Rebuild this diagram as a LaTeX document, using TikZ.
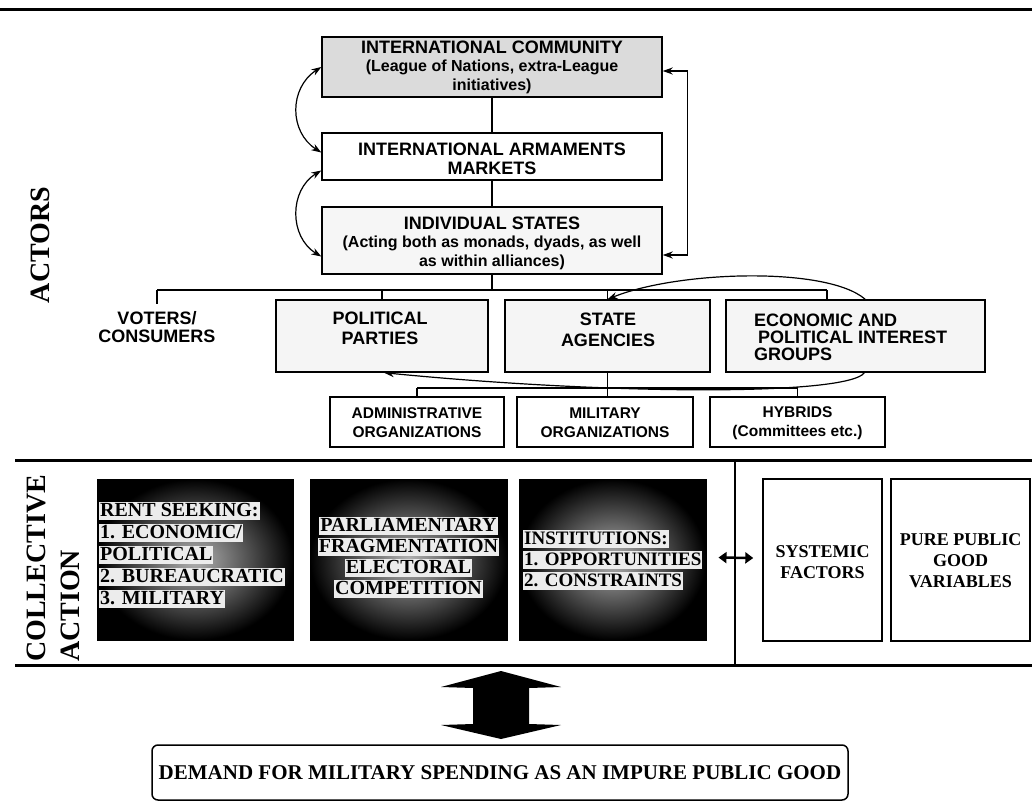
\documentclass[tikz,border=0pt]{standalone}
\usepackage{fontspec}
\setmainfont{Liberation Serif}
\newfontfamily\hv{Liberation Sans}
\usetikzlibrary{arrows.meta}
\pgfdeclarelayer{background}
\pgfsetlayers{background,main}
\newcommand\smallhv{\hv\bfseries\fontsize{16}{17}\selectfont}
\tikzset{
  box/.style={draw, line width=1.4pt, inner sep=0pt},
  hd/.style={font=\hv\bfseries\fontsize{18}{18.5}\selectfont, align=center, inner sep=0pt},
  lbl/.style={font=\hv\bfseries\fontsize{15.5}{19}\selectfont, align=center, inner sep=0pt},
  conn/.style={line width=1.2pt},
  tips/.style={{Stealth[length=10pt,width=7pt]}-{Stealth[length=10pt,width=7pt]}},
  rule/.style={line width=3pt},
  side/.style={font=\bfseries\fontsize{28}{34}\selectfont, rotate=90, inner sep=0pt},
  dark/.style={draw, line width=1pt, shade, inner color=gray!60, outer color=black, inner sep=0pt},
  band/.style={fill=gray!15, inner sep=1pt, text height=13.5pt, text depth=3pt, font=\bfseries\fontsize{20}{21}\selectfont},
  serifbox/.style={font=\bfseries\fontsize{18}{21}\selectfont, align=center, inner sep=0pt},
  dbl/.style={line width=2.5pt, {Triangle[length=8pt,width=11pt]}-{Triangle[length=8pt,width=11pt]}},
}
\begin{document}
\begin{tikzpicture}[x=1pt,y=-1pt]
\useasboundingbox (0,0) rectangle (1032,810);
% section rules
\draw[rule] (0,10) -- (1032,10);
\draw[rule] (15,460) -- (1032,460);
\draw[rule] (15,665) -- (1032,665);
\draw[line width=1.5pt] (735,460) -- (735,665);
% side labels
\node[side] (actors) at (40,245) {ACTORS};
\node[side, anchor=north west, align=left] (collective) at (27,662) {COLLECTIVE\\ACTION};
% international level
\node[box, fill=gray!28, minimum width=340pt, minimum height=60pt] (ic) at (492,67) {};
\node[hd] (ict) at (492,67) {INTERNATIONAL COMMUNITY\\\smallhv(League of Nations, extra-League\\\smallhv initiatives)};
\node[box, fill=white, minimum width=340pt, minimum height=47pt] (iam) at (492,156.5) {};
\node[hd] (iamt) at (492,159) {INTERNATIONAL ARMAMENTS\\MARKETS};
\node[box, fill=gray!7, minimum width=340pt, minimum height=67pt] (is) at (492,240.5) {};
\node[hd] (ist) at (492,243) {INDIVIDUAL STATES\\\smallhv(Acting both as monads, dyads, as well\\\smallhv as within alliances)};
% connectors between international boxes
\draw[conn] (ic.south) -- (iam.north);
\draw[conn] (iam.south) -- (is.north);
\draw[conn, tips] (ic.west) .. controls (289,88) and (289,132) .. ([yshift=4pt]iam.west);
\draw[conn, tips] ([yshift=-14pt]iam.west) .. controls (289,190) and (289,237) .. ([yshift=-16pt]is.west);
\draw[conn, tips] ([yshift=-14.5pt]is.east) -- ++(25,0) |- ([yshift=-4pt]ic.east);
% domestic actors
\coordinate (bus) at (0,290);
\coordinate (lbus) at (0,388);
\coordinate (egdrop) at (827,290);
\node[hd] (vt) at (157,327) {VOTERS/\\CONSUMERS};
\node[box, fill=gray!8, minimum width=212pt, minimum height=72pt] (pp) at (382,336) {};
\node[hd, font=\hv\bfseries\fontsize{18}{20}\selectfont] (ppt) at (380,328) {POLITICAL\\PARTIES};
\node[box, fill=gray!8, minimum width=205pt, minimum height=72pt] (sa) at (607.5,336) {};
\node[hd, font=\hv\bfseries\fontsize{18}{21}\selectfont] (sat) at (608,330) {STATE\\AGENCIES};
\node[box, fill=gray!8, minimum width=259pt, minimum height=72pt] (eg) at (855.5,336) {};
\node[hd, align=left, anchor=west, font=\hv\bfseries\fontsize{18}{17}\selectfont] (egt) at (754,337) {ECONOMIC AND\\\hspace*{4pt}POLITICAL INTEREST\\GROUPS};
\draw[conn] (vt.north |- bus) -- (egdrop);
\draw[conn] (egdrop) -- (egdrop |- eg.north);
\draw[conn] (is.south) -- (is.south |- bus);
\draw[conn] (vt.north |- bus) -- ([yshift=7pt]vt.north);
\draw[conn] (pp.north |- bus) -- (pp.north);
\draw[conn] (sa.north |- bus) -- (sa.north);
% loop between state agencies and political parties (passes behind interest groups box)
\begin{pgfonlayer}{background}
\draw[conn, tips] (sa.north) .. controls (680,270) and (835,266) .. (868,302)
  .. controls (884,322) and (884,356) .. (862,375)
  .. controls (830,396) and (600,394) .. ([xshift=2pt]pp.south);
\end{pgfonlayer}
% organizations
\node[box, fill=white, minimum width=174pt, minimum height=50pt] (ad) at (417,422) {};
\node[lbl] (adt) at (417,423) {ADMINISTRATIVE\\ORGANIZATIONS};
\node[box, fill=white, minimum width=176pt, minimum height=50pt] (mo) at (605,422) {};
\node[lbl] (mot) at (605,423) {MILITARY\\ORGANIZATIONS};
\node[box, fill=white, minimum width=175pt, minimum height=50pt] (hy) at (797.5,422) {};
\node[lbl] (hyt) at (797.5,423) {HYBRIDS\\(Committees etc.)};
\draw[conn] (ad.north |- lbus) -- (hy.north |- lbus);
\draw[conn] (ad.north |- lbus) -- (ad.north);
\draw[conn] (hy.north |- lbus) -- (hy.north);
\draw[conn] (sa.south) -- (sa.south |- mo.north);
% collective action
\node[dark, minimum width=196pt, minimum height=161pt] (rs) at (195,559.5) {};
\node[band, anchor=west] (rs1) at (99,511) {RENT SEEKING:};
\node[band, anchor=west] (rs2) at (99,533) {1. ECONOMIC/};
\node[band, anchor=west] (rs3) at (99,555) {POLITICAL};
\node[band, anchor=west] (rs4) at (99,577) {2. BUREAUCRATIC};
\node[band, anchor=west] (rs5) at (99,599) {3. MILITARY};
\node[dark, minimum width=197pt, minimum height=161pt] (pf) at (408.5,559.5) {};
\node[band] (pf1) at (408.5,526) {PARLIAMENTARY};
\node[band] (pf2) at (408.5,547) {FRAGMENTATION};
\node[band] (pf3) at (408.5,568) {ELECTORAL};
\node[band] (pf4) at (408.5,589) {COMPETITION};
\node[dark, minimum width=187pt, minimum height=161pt] (in) at (612.5,559.5) {};
\node[band, anchor=west, font=\bfseries\fontsize{19}{21}\selectfont] (in1) at (523,539) {INSTITUTIONS:};
\node[band, anchor=west, font=\bfseries\fontsize{19}{21}\selectfont] (in2) at (523,560) {1. OPPORTUNITIES};
\node[band, anchor=west, font=\bfseries\fontsize{19}{21}\selectfont] (in3) at (523,581) {2. CONSTRAINTS};
\node[box, fill=white, minimum width=119pt, minimum height=162pt] (sf) at (822.5,560) {};
\node[serifbox] (sft) at (822.5,562) {SYSTEMIC\\FACTORS};
\node[box, fill=white, minimum width=139pt, minimum height=162pt] (pg) at (960.5,560) {};
\node[serifbox] (pgt) at (960.5,561) {PURE PUBLIC\\GOOD\\VARIABLES};
\draw[dbl] ([xshift=12pt,yshift=2pt]in.east) -- ([xshift=-9pt,yshift=2pt]sf.west);
% outcome
\fill (501,671) -- (561,687) -- (529,688) -- (529,724) -- (561,725) -- (501,739)
  -- (441,725) -- (473,724) -- (473,688) -- (441,687) -- cycle;
\node[box, rounded corners=6pt, line width=1.5pt, minimum width=696pt, minimum height=55pt,
  font=\bfseries\fontsize{21}{21}\selectfont] (dm) at (500,772.5)
  {DEMAND FOR MILITARY SPENDING AS AN IMPURE PUBLIC GOOD};
\end{tikzpicture}
\end{document}
